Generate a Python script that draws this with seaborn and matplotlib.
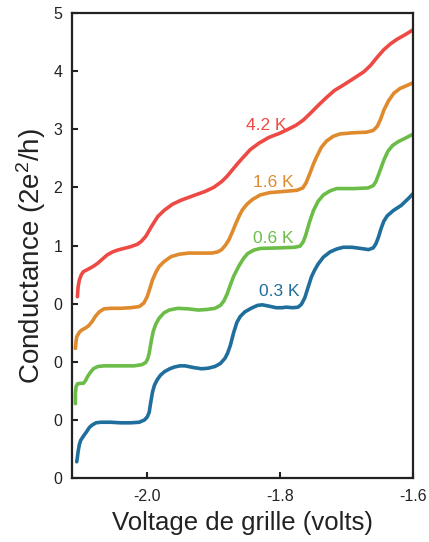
import pandas as pd
import matplotlib
matplotlib.use('Agg')
import matplotlib.pyplot as plt
import seaborn as sns

# Conductance traces (each one shifted up by one unit)
blue_x = [-2.106, -2.105, -2.104, -2.102, -2.100, -2.096, -2.091, -2.087, -2.083, -2.077,
          -2.070, -2.055, -2.040, -2.025, -2.012, -2.004, -2.000, -1.997, -1.995, -1.992,
          -1.989, -1.985, -1.980, -1.974, -1.966, -1.959, -1.951, -1.943, -1.930, -1.918,
          -1.908, -1.898, -1.890, -1.883, -1.879, -1.875, -1.870, -1.865, -1.860, -1.853,
          -1.842, -1.834, -1.827, -1.818, -1.806, -1.797, -1.791, -1.781, -1.773, -1.768,
          -1.763, -1.758, -1.753, -1.748, -1.743, -1.735, -1.725, -1.715, -1.705, -1.692,
          -1.679, -1.667, -1.660, -1.656, -1.652, -1.648, -1.644, -1.639, -1.630, -1.618,
          -1.607, -1.597]
blue_y = [0.28, 0.36, 0.45, 0.58, 0.65, 0.72, 0.80, 0.87, 0.91, 0.95,
          0.96, 0.96, 0.95, 0.95, 0.96, 1.00, 1.05, 1.13, 1.28, 1.48,
          1.60, 1.69, 1.77, 1.83, 1.88, 1.91, 1.93, 1.93, 1.90, 1.88,
          1.89, 1.92, 1.97, 2.06, 2.15, 2.28, 2.50, 2.68, 2.78, 2.86,
          2.93, 2.97, 2.98, 2.96, 2.93, 2.93, 2.94, 2.93, 2.94, 2.99,
          3.10, 3.28, 3.46, 3.58, 3.68, 3.80, 3.89, 3.94, 3.97, 3.97,
          3.95, 3.93, 3.96, 4.03, 4.15, 4.30, 4.42, 4.51, 4.60, 4.69,
          4.81, 4.93]

green_x = [-2.108, -2.108, -2.107, -2.105, -2.100, -2.096, -2.093, -2.090, -2.086, -2.081,
           -2.074, -2.065, -2.040, -2.020, -2.008, -2.002, -1.999, -1.997, -1.994, -1.991,
           -1.987, -1.982, -1.975, -1.967, -1.954, -1.938, -1.923, -1.910, -1.898, -1.890,
           -1.885, -1.880, -1.875, -1.870, -1.862, -1.855, -1.849, -1.840, -1.830, -1.800,
           -1.778, -1.770, -1.765, -1.761, -1.756, -1.750, -1.743, -1.735, -1.725, -1.715,
           -1.689, -1.668, -1.660, -1.656, -1.651, -1.644, -1.638, -1.631, -1.622, -1.613,
           -1.596]
green_y = [1.28, 1.45, 1.57, 1.62, 1.63, 1.63, 1.67, 1.74, 1.81, 1.88,
           1.92, 1.93, 1.93, 1.93, 1.95, 1.99, 2.06, 2.15, 2.35, 2.52,
           2.65, 2.75, 2.84, 2.89, 2.92, 2.91, 2.89, 2.90, 2.92, 2.97,
           3.04, 3.16, 3.32, 3.47, 3.65, 3.78, 3.86, 3.92, 3.95, 3.96,
           3.97, 3.99, 4.07, 4.20, 4.40, 4.60, 4.76, 4.87, 4.94, 4.98,
           4.98, 4.99, 5.03, 5.10, 5.25, 5.47, 5.62, 5.72, 5.79, 5.84,
           5.94]

orange_x = [-2.108, -2.107, -2.106, -2.102, -2.098, -2.093, -2.088, -2.083, -2.078, -2.072,
            -2.065, -2.055, -2.040, -2.025, -2.012, -2.005, -2.000, -1.996, -1.992, -1.987,
            -1.982, -1.974, -1.964, -1.952, -1.938, -1.920, -1.903, -1.894, -1.888, -1.882,
            -1.877, -1.872, -1.867, -1.862, -1.857, -1.850, -1.842, -1.830, -1.816, -1.795,
            -1.775, -1.766, -1.761, -1.756, -1.750, -1.745, -1.738, -1.730, -1.720, -1.710,
            -1.690, -1.670, -1.660, -1.654, -1.649, -1.644, -1.637, -1.629, -1.620, -1.608,
            -1.596]
orange_y = [2.23, 2.35, 2.43, 2.51, 2.55, 2.58, 2.62, 2.69, 2.78, 2.86,
            2.91, 2.92, 2.92, 2.93, 2.95, 3.01, 3.12, 3.26, 3.41, 3.54,
            3.64, 3.73, 3.81, 3.85, 3.87, 3.87, 3.87, 3.89, 3.93, 4.01,
            4.10, 4.23, 4.37, 4.50, 4.61, 4.71, 4.79, 4.87, 4.91, 4.93,
            4.95, 4.99, 5.08, 5.22, 5.40, 5.53, 5.69, 5.80, 5.88, 5.92,
            5.94, 5.95, 5.98, 6.05, 6.17, 6.33, 6.49, 6.62, 6.70, 6.76,
            6.82]

red_x = [-2.105, -2.104, -2.102, -2.099, -2.096, -2.091, -2.086, -2.080, -2.075, -2.068,
         -2.060, -2.052, -2.045, -2.035, -2.025, -2.015, -2.009, -2.002, -1.994, -1.984,
         -1.974, -1.962, -1.949, -1.930, -1.913, -1.900, -1.888, -1.880, -1.872, -1.864,
         -1.857, -1.845, -1.832, -1.817, -1.801, -1.788, -1.776, -1.765, -1.755, -1.742,
         -1.730, -1.718, -1.705, -1.690, -1.674, -1.664, -1.654, -1.644, -1.634, -1.624,
         -1.613, -1.596]
red_y = [3.12, 3.28, 3.41, 3.50, 3.55, 3.58, 3.61, 3.65, 3.69, 3.76,
         3.84, 3.89, 3.92, 3.95, 3.98, 4.02, 4.07, 4.16, 4.32, 4.50,
         4.61, 4.71, 4.78, 4.86, 4.93, 5.00, 5.10, 5.19, 5.30, 5.41,
         5.50, 5.65, 5.76, 5.86, 5.93, 6.00, 6.07, 6.16, 6.27, 6.42,
         6.55, 6.67, 6.76, 6.87, 6.99, 7.10, 7.24, 7.37, 7.47, 7.55,
         7.62, 7.74]

temps = ['0.3 K', '0.6 K', '1.6 K', '4.2 K']
colors = ['#1f6e9c', '#6cbd48', '#df8a2c', '#ee4a45']
label_x = [-1.801, -1.811, -1.810, -1.821]
label_y = [3.21, 4.12, 5.09, 6.07]

ytick_pos = [0, 1, 2, 3, 4, 5, 6, 7, 8]
ytick_labels = ['0', '0', '0', '0', '1', '2', '3', '4', '5']
xtick_pos = [-2.0, -1.8, -1.6]
xtick_labels = ['-2.0', '-1.8', '-1.6']

frames = []
for t, xs, ys in zip(temps, [blue_x, green_x, orange_x, red_x], [blue_y, green_y, orange_y, red_y]):
    frames.append(pd.DataFrame({'V': xs, 'G': ys, 'T': t}))
df = pd.concat(frames, ignore_index=True)

sns.set_style('ticks')
plt.rcParams['font.family'] = ['Liberation Sans', 'DejaVu Sans']
plt.rcParams['mathtext.default'] = 'regular'

fig = plt.figure(figsize=(4.29, 5.42), dpi=100)
ax = fig.add_axes([0.168, 0.118, 0.795, 0.858])

sns.lineplot(data=df, x='V', y='G', hue='T', palette=dict(zip(temps, colors)),
             sort=False, estimator=None, linewidth=2.6, legend=False, ax=ax,
             solid_joinstyle='round', solid_capstyle='round')

for t, c, lx, ly in zip(temps, colors, label_x, label_y):
    ax.text(lx, ly, t, color=c, fontsize=12.5, ha='center', va='center')

ax.set_xlim(-2.113, -1.6)
ax.set_ylim(0, 8)
ax.set_xticks(xtick_pos)
ax.set_xticklabels(xtick_labels)
ax.set_yticks(ytick_pos)
ax.set_yticklabels(ytick_labels)
ax.tick_params(direction='in', length=4, width=1.5, labelsize=11.5, colors='#222222', pad=7)
ax.tick_params(axis='x', pad=8)
for s in ax.spines.values():
    s.set_linewidth(1.6)
    s.set_color('#222222')
ax.set_xlabel('Voltage de grille (volts)', fontsize=18.5, color='#222222', labelpad=5)
ax.set_ylabel('Conductance (2e$^2$/h)', fontsize=20, color='#222222')
ax.yaxis.set_label_coords(-0.07, 0.478)

fig.savefig('out.png', dpi=100)
